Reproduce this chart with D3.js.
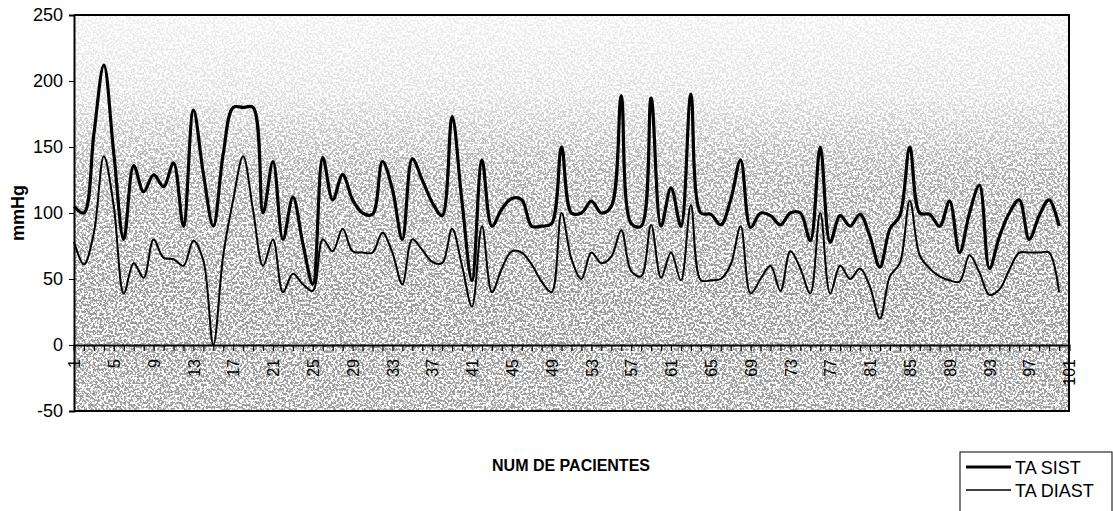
<!DOCTYPE html>
<html>
<head>
<meta charset="utf-8">
<script src="https://cdn.jsdelivr.net/npm/d3@7"></script>
<style>
  body { margin: 0; background: #fff; }
  svg { display: block; font-family: "Liberation Sans", Arial, sans-serif; }
</style>
</head>
<body>
<script>
// patient numbers (category axis)
const patients = [1,2,3,4,5,6,7,8,9,10,11,12,13,14,15,16,17,18,19,20,
  21,22,23,24,25,26,27,28,29,30,31,32,33,34,35,36,37,38,39,40,
  41,42,43,44,45,46,47,48,49,50,51,52,53,54,55,56,57,58,59,60,
  61,62,63,64,65,66,67,68,69,70,71,72,73,74,75,76,77,78,79,80,
  81,82,83,84,85,86,87,88,89,90,91,92,93,94,95,96,97,98,99,100,101];

// systolic pressure
const taSist = [105,100,160,212,145,80,136,116,129,120,
  138,90,178,130,90,145,180,180,180,100,
  139,80,112,77,46,142,110,129,110,100,
  99,139,118,80,141,125,108,98,173,108,
  49,140,90,103,111,110,90,90,92,150,
  100,100,109,100,105,189,92,90,187,90,
  119,90,190,100,99,91,110,140,89,100,
  98,91,100,100,79,150,78,98,90,99,
  82,59,88,98,150,100,99,90,109,70,
  100,121,58,82,100,110,80,98,110,90];

// diastolic pressure
const taDiast = [78,61,85,143,105,39,62,51,80,66,
  65,60,79,64,0,68,110,143,102,60,
  80,40,54,46,41,80,71,88,71,70,
  70,85,70,46,80,72,63,62,88,60,
  29,90,40,58,71,70,61,48,40,100,
  65,50,70,62,67,87,56,52,91,51,
  70,49,106,49,49,50,61,90,39,50,
  60,41,71,58,39,100,39,60,50,58,
  44,20,52,62,109,68,58,52,49,48,
  68,55,38,42,57,70,70,70,70,40];

const yTicks = [-50, 0, 50, 100, 150, 200, 250];
const xTickLabels = [1,5,9,13,17,21,25,29,33,37,41,45,49,53,57,61,65,69,73,77,81,85,89,93,97,101];

const width = 1113, height = 511;
const plot = { left: 74, right: 1069, top: 15, bottom: 411 };

const svg = d3.select("body").append("svg")
    .attr("width", width)
    .attr("height", height);

const defs = svg.append("defs");

// grey stipple background of the plot area, lighter at the top
const grad = defs.append("linearGradient")
    .attr("id", "shade")
    .attr("x1", 0).attr("y1", 0).attr("x2", 0).attr("y2", 1);
[[0, 0.06], [0.2, 0.12], [0.4, 0.32], [0.7, 0.4], [1, 0.38]].forEach(s => {
    grad.append("stop").attr("offset", s[0]).attr("stop-color", "#000").attr("stop-opacity", s[1]);
});

const filt = defs.append("filter")
    .attr("id", "speckle")
    .attr("x", 0).attr("y", 0).attr("width", 1).attr("height", 1);
filt.append("feTurbulence")
    .attr("type", "fractalNoise")
    .attr("baseFrequency", 0.45)
    .attr("numOctaves", 2)
    .attr("seed", 7)
    .attr("result", "n");
filt.append("feColorMatrix")
    .attr("in", "n")
    .attr("type", "matrix")
    .attr("values", "0 0 0 0 0  0 0 0 0 0  0 0 0 0 0  -8 0 0 0 4.5")
    .attr("result", "spk");
filt.append("feComposite")
    .attr("in", "SourceGraphic")
    .attr("in2", "spk")
    .attr("operator", "in");

svg.append("rect")
    .attr("x", plot.left).attr("y", plot.top)
    .attr("width", plot.right - plot.left).attr("height", plot.bottom - plot.top)
    .attr("fill", "#fff");

svg.append("rect")
    .attr("x", plot.left).attr("y", plot.top)
    .attr("width", plot.right - plot.left).attr("height", plot.bottom - plot.top)
    .attr("fill", "url(#shade)")
    .attr("filter", "url(#speckle)");

// scales
const x = d3.scalePoint()
    .domain(patients)
    .range([plot.left, plot.right])
    .padding(0);

const y = d3.scaleLinear()
    .domain([-50, 250])
    .range([plot.bottom, plot.top]);

// plot border (top, right, bottom)
svg.append("path")
    .attr("d", `M${plot.left},${plot.top}H${plot.right}V${plot.bottom}H${plot.left}`)
    .attr("fill", "none")
    .attr("stroke", "#000")
    .attr("stroke-width", 2);

// y axis
const yAxis = svg.append("g")
    .attr("transform", `translate(${plot.left},0)`)
    .call(d3.axisLeft(y).tickValues(yTicks).tickSize(5).tickPadding(6).tickFormat(d => String(d)));
yAxis.select(".domain").attr("stroke-width", 2);
yAxis.selectAll("text").attr("font-size", 18).attr("fill", "#000");

// x axis sitting on the zero line
const xAxis = svg.append("g")
    .attr("transform", `translate(0,${y(0)})`)
    .call(d3.axisBottom(x).tickSize(6)
        .tickFormat(d => xTickLabels.includes(d) ? String(d) : ""));
xAxis.select(".domain").attr("stroke-width", 2);
xAxis.selectAll("line").attr("stroke-width", 1.2);
xAxis.selectAll("text")
    .attr("font-size", 16)
    .attr("fill", "#000")
    .attr("transform", "rotate(-90)")
    .attr("text-anchor", "end")
    .attr("x", -14)
    .attr("y", 0)
    .attr("dy", "0.35em");

// smoothed lines
const line = d3.line()
    .x((d, i) => x(patients[i]))
    .y(d => y(d))
    .curve(d3.curveCatmullRom.alpha(0.5));

svg.append("path")
    .datum(taDiast)
    .attr("fill", "none")
    .attr("stroke", "#000")
    .attr("stroke-width", 2)
    .attr("d", line);

svg.append("path")
    .datum(taSist)
    .attr("fill", "none")
    .attr("stroke", "#000")
    .attr("stroke-width", 3.2)
    .attr("d", line);

// axis titles
svg.append("text")
    .attr("transform", "translate(24,213) rotate(-90)")
    .attr("text-anchor", "middle")
    .attr("font-size", 18)
    .attr("font-weight", "bold")
    .text("mmHg");

svg.append("text")
    .attr("x", 571)
    .attr("y", 471)
    .attr("text-anchor", "middle")
    .attr("font-size", 16)
    .attr("font-weight", "bold")
    .text("NUM DE PACIENTES");

// legend
const legend = svg.append("g");
legend.append("rect")
    .attr("x", 960).attr("y", 452)
    .attr("width", 152).attr("height", 70)
    .attr("fill", "#fff")
    .attr("stroke", "#000");

[["TA SIST", 3.2, 467], ["TA DIAST", 1.5, 490]].forEach(([name, sw, ly]) => {
    legend.append("line")
        .attr("x1", 966).attr("x2", 1011)
        .attr("y1", ly).attr("y2", ly)
        .attr("stroke", "#000")
        .attr("stroke-width", sw);
    legend.append("text")
        .attr("x", 1015)
        .attr("y", ly + 7)
        .attr("font-size", 18)
        .text(name);
});
</script>
</body>
</html>
